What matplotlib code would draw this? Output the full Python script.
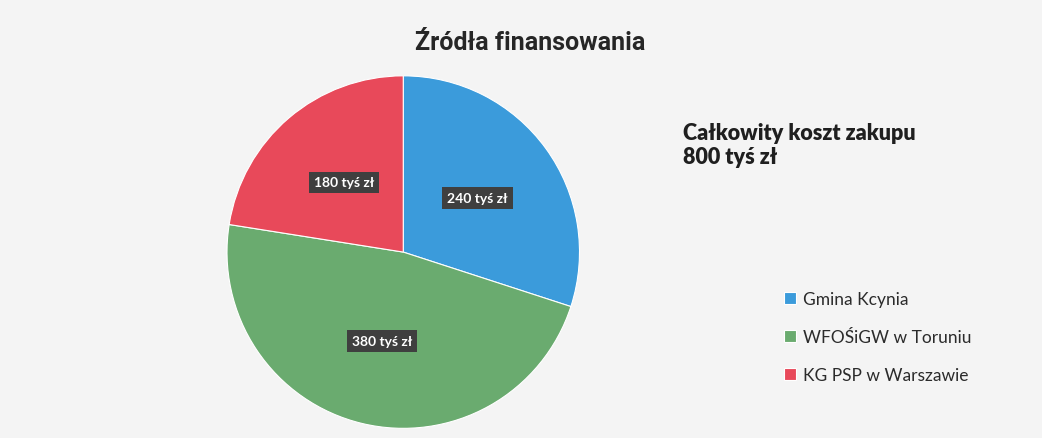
import matplotlib.pyplot as plt

# dane
zrodla = ["Gmina Kcynia", "WFOŚiGW w Toruniu", "KG PSP w Warszawie"]
kwoty = [240, 380, 180]
etykiety = ["240 tyś zł", "380 tyś zł", "180 tyś zł"]
kolory = ["#3b9bdb", "#6aab6f", "#e8495a"]

plt.rcParams['font.family'] = ['Lato', 'DejaVu Sans']

fig = plt.figure(figsize=(10.42, 4.39), dpi=100)
fig.patch.set_facecolor("#f4f4f4")

ax = fig.add_axes([0.216, 0.018, 0.342, 0.811])
ax.set_facecolor("#f4f4f4")
klin, teksty = ax.pie(kwoty, colors=kolory, labels=etykiety, labeldistance=0.52,
                      startangle=90, counterclock=False,
                      wedgeprops=dict(linewidth=0.8, edgecolor="white"))
for t in teksty:
    t.set_ha("center")
    t.set_va("center")
    t.set_color("white")
    t.set_fontsize(10)
    t.set_fontweight("bold")
    t.set_bbox(dict(boxstyle="square,pad=0.35", facecolor="#3f3f3f", edgecolor="none"))
ax.set_xlim(-1.01, 1.01)
ax.set_ylim(-1.01, 1.01)
ax.set_aspect("equal")

fig.text(0.509, 0.902, "Źródła finansowania", ha="center", va="center",
         fontsize=18, fontweight="bold", family=["Roboto", "DejaVu Sans"], color="#262626")

fig.text(0.655, 0.668, "Całkowity koszt zakupu\n800 tyś zł", ha="left", va="center",
         fontsize=15.5, fontweight="heavy", color="#1f1f1f", linespacing=1.2)

leg = fig.legend(klin, zrodla, loc="center left", bbox_to_anchor=(0.737, 0.23),
                 frameon=False, fontsize=12.5, handlelength=0.7, handleheight=0.7,
                 handletextpad=0.4, labelspacing=1.25)
for t in leg.get_texts():
    t.set_color("#2b2b2b")

fig.savefig("out.png", dpi=100, facecolor=fig.get_facecolor())
